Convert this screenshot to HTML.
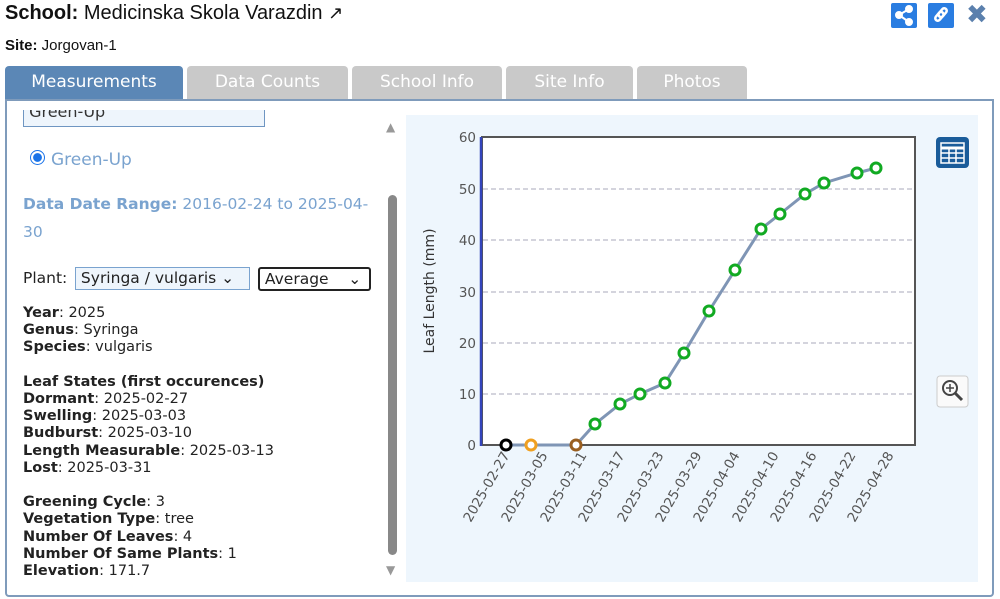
<!DOCTYPE html>
<html><head><meta charset="utf-8"><style>
body{margin:0;width:1000px;height:599px;background:#fff;font-family:"DejaVu Sans",Verdana,sans-serif;position:relative;overflow:hidden}
.a{position:absolute}
.tab{position:absolute;top:66px;height:33px;background:#c9c9c9;color:#fff;border-radius:4px 4px 0 0;font-size:17px;line-height:33px;text-align:center}
.l{position:absolute;left:23px;font-size:14.5px;color:#222;line-height:17.2px}
b{font-weight:bold}
</style></head><body>
<div class="a" style="left:5px;top:2px;font-family:'Liberation Sans',Arial,sans-serif;font-size:20px;color:#111"><b>School:</b> Medicinska Skola Varazdin <span style="font-size:18px">&#x2197;</span></div>
<div class="a" style="left:5px;top:37px;font-family:'Liberation Sans',Arial,sans-serif;font-size:15px;color:#111"><b>Site:</b> Jorgovan-1</div>
<div class="a" style="left:891px;top:3px;width:26px;height:25px;background:#2a7de1;border-radius:2px"><svg width="26" height="25"><g stroke="#fff" stroke-width="2" fill="#fff"><line x1="18" y1="6" x2="8" y2="12"/><line x1="8" y1="12" x2="18" y2="19"/><circle cx="18" cy="6" r="3"/><circle cx="8" cy="12" r="3"/><circle cx="18" cy="19" r="3"/></g></svg></div>
<div class="a" style="left:928px;top:3px;width:26px;height:25px;background:#2a7de1;border-radius:2px"><svg width="26" height="25"><g stroke="#fff" stroke-width="2.5" fill="none"><rect x="6" y="11" width="10" height="5" rx="2.5" transform="rotate(-50 11 13)"/><rect x="10" y="7" width="10" height="5" rx="2.5" transform="rotate(-50 15 10)"/></g></svg></div>
<div class="a" style="left:966px;top:0px;font-size:26px;color:#5b80ad;font-weight:bold">✖</div>
<div class="tab" style="left:5px;width:178px;background:#5b87b6">Measurements</div>
<div class="tab" style="left:187px;width:161px">Data Counts</div>
<div class="tab" style="left:352px;width:150px">School Info</div>
<div class="tab" style="left:506px;width:127px">Site Info</div>
<div class="tab" style="left:637px;width:110px">Photos</div>
<div class="a" style="left:5px;top:99px;width:985px;height:494px;border:2px solid #7f9bbb;border-radius:0 0 4px 4px"></div>
<div class="a" style="left:23px;top:110px;width:240px;height:16px;border:1px solid #6f96c2;border-top:none;background:#eef5fc;overflow:hidden;font-size:16px;line-height:4px;color:#333">&nbsp;Green-Up</div>
<div class="a" style="left:30px;top:150px;width:13px;height:13px;border-radius:50%;border:1px solid #1a73e8;background:radial-gradient(#1a73e8 45%,#fff 50%)"></div>
<div class="a" style="left:51px;top:150px;font-size:17px;color:#7aa3cf">Green-Up</div>
<div class="a" style="left:23px;top:190px;font-size:15.5px;color:#7aa3cf;line-height:28px;width:360px"><b>Data Date Range:</b> 2016-02-24 to 2025-04-<br>30</div>
<div class="a" style="left:23px;top:269px;font-size:15.5px;color:#222">Plant:</div>
<div class="a" style="left:75px;top:267px;width:173px;height:21px;border:1px solid #7aa3cf;background:#eef5fc;font-size:15.5px;line-height:21px;color:#222">&nbsp;Syringa / vulgaris ⌄</div>
<div class="a" style="left:258px;top:267px;width:109px;height:20px;border:2px solid #222;border-radius:3px;font-size:15.5px;line-height:20px;color:#222">&nbsp;Average &nbsp;&nbsp;&nbsp;⌄</div>
<div class="l" style="top:305px"><b>Year</b>: 2025<br><b>Genus</b>: Syringa<br><b>Species</b>: vulgaris<br><br><b>Leaf States (first occurences)</b><br><b>Dormant</b>: 2025-02-27<br><b>Swelling</b>: 2025-03-03<br><b>Budburst</b>: 2025-03-10<br><b>Length Measurable</b>: 2025-03-13<br><b>Lost</b>: 2025-03-31<br><br><b>Greening Cycle</b>: 3<br><b>Vegetation Type</b>: tree<br><b>Number Of Leaves</b>: 4<br><b>Number Of Same Plants</b>: 1<br><b>Elevation</b>: 171.7</div>
<div class="a" style="left:386px;top:120px;font-size:12px;color:#999">▲</div>
<div class="a" style="left:388px;top:195px;width:9px;height:360px;background:#888;border-radius:5px"></div>
<div class="a" style="left:386px;top:563px;font-size:12px;color:#999">▼</div>
<div class="a" style="left:406px;top:115px;width:572px;height:467px;background:#eef6fd"></div>
<svg class="a" style="left:0;top:0" width="1000" height="599" font-family="DejaVu Sans,Verdana,sans-serif">
<rect x="482" y="137" width="433" height="308" fill="#fff" stroke="#555" stroke-width="2"/>
<g stroke="#aab" stroke-dasharray="5,3"><line x1="483" x2="914" y1="189" y2="189"/><line x1="483" x2="914" y1="240" y2="240"/><line x1="483" x2="914" y1="292" y2="292"/><line x1="483" x2="914" y1="343" y2="343"/><line x1="483" x2="914" y1="394" y2="394"/></g>
<line x1="481" y1="137" x2="481" y2="446" stroke="#3344bb" stroke-width="2.5"/>
<g font-size="13.5" fill="#555" text-anchor="end"><text x="476" y="142">60</text><text x="476" y="194">50</text><text x="476" y="245">40</text><text x="476" y="297">30</text><text x="476" y="348">20</text><text x="476" y="399">10</text><text x="476" y="450">0</text></g>
<text transform="translate(434,291) rotate(-90)" text-anchor="middle" font-size="14" fill="#333">Leaf Length (mm)</text>
<polyline fill="none" stroke="#7f95b5" stroke-width="3" points="506,445 531,445 576,445 595,424 620,404 640,394 665,383 684,353 709,311 735,270 761,229 780,214 805,194 824,183 857,173 876,168"/>
<g fill="#fff" stroke-width="3"><circle cx="506" cy="445" r="5" stroke="#000"/><circle cx="531" cy="445" r="5" stroke="#f0a020"/><circle cx="576" cy="445" r="5" stroke="#9a5f20"/>
<g stroke="#11aa22"><circle cx="595" cy="424" r="5"/><circle cx="620" cy="404" r="5"/><circle cx="640" cy="394" r="5"/><circle cx="665" cy="383" r="5"/><circle cx="684" cy="353" r="5"/><circle cx="709" cy="311" r="5"/><circle cx="735" cy="270" r="5"/><circle cx="761" cy="229" r="5"/><circle cx="780" cy="214" r="5"/><circle cx="805" cy="194" r="5"/><circle cx="824" cy="183" r="5"/><circle cx="857" cy="173" r="5"/><circle cx="876" cy="168" r="5"/></g></g>
<g font-size="13.5" fill="#555" text-anchor="end">
<text transform="translate(510,455) rotate(-60)">2025-02-27</text><text transform="translate(548,455) rotate(-60)">2025-03-05</text><text transform="translate(587,455) rotate(-60)">2025-03-11</text><text transform="translate(625,455) rotate(-60)">2025-03-17</text><text transform="translate(664,455) rotate(-60)">2025-03-23</text><text transform="translate(702,455) rotate(-60)">2025-03-29</text><text transform="translate(740,455) rotate(-60)">2025-04-04</text><text transform="translate(779,455) rotate(-60)">2025-04-10</text><text transform="translate(817,455) rotate(-60)">2025-04-16</text><text transform="translate(856,455) rotate(-60)">2025-04-22</text><text transform="translate(894,455) rotate(-60)">2025-04-28</text></g>
<rect x="936" y="137" width="33" height="31" rx="4" fill="#1a5c9a"/>
<g stroke="#fff" stroke-width="1.5" fill="none"><rect x="941" y="143" width="23" height="20"/><line x1="941" y1="148" x2="964" y2="148" stroke-width="3"/><line x1="941" y1="153" x2="964" y2="153"/><line x1="941" y1="158" x2="964" y2="158"/><line x1="949" y1="148" x2="949" y2="163"/><line x1="956" y1="148" x2="956" y2="163"/></g>
<rect x="937" y="376" width="31" height="31" rx="3" fill="#fafafa" stroke="#ccc"/>
<circle cx="950" cy="388" r="7" fill="none" stroke="#444" stroke-width="2"/><line x1="955" y1="393" x2="962" y2="400" stroke="#444" stroke-width="3"/><path d="M946 388h8M950 384v8" stroke="#444" stroke-width="1.5"/>
</svg>
</body></html>
